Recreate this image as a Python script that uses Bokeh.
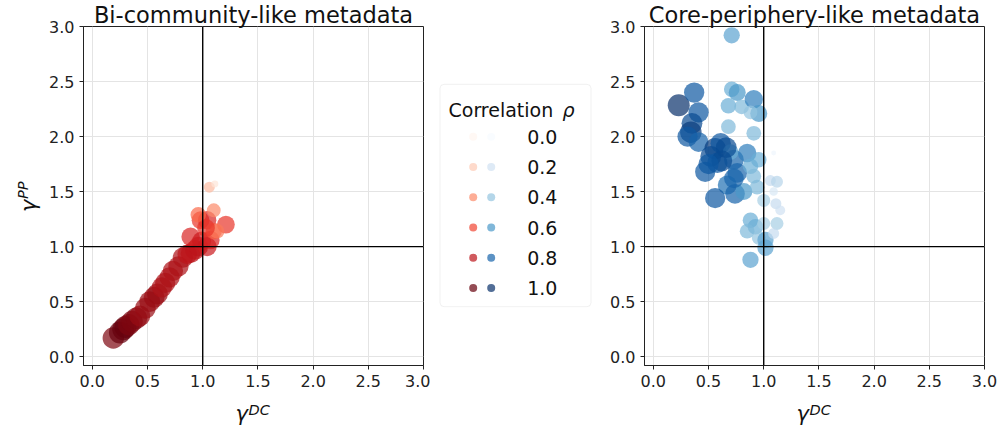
import math

from bokeh.plotting import figure
from bokeh.layouts import row
from bokeh.models import (Range1d, FixedTicker, PrintfTickFormatter, Span, Label,
                          LinearColorMapper, ColumnDataSource, BoxAnnotation)
from bokeh.palettes import Reds256, Blues256
from bokeh.embed import file_html
from bokeh.resources import INLINE
from bokeh.core.properties import value

FONT = "DejaVu Sans"

# ---- data -------------------------------------------------------------
ticks = [0.0, 0.5, 1.0, 1.5, 2.0, 2.5, 3.0]
legend_rho = [0.0, 0.2, 0.4, 0.6, 0.8, 1.0]
legend_labels = ["0.0", "0.2", "0.4", "0.6", "0.8", "1.0"]

# bi-community-like metadata
bi_gamma_dc = [0.19, 0.25, 0.28, 0.30, 0.33, 0.36, 0.40, 0.43, 0.48, 0.52, 0.56, 0.59,
               0.63, 0.66, 0.70, 0.73, 0.78, 0.82, 0.86, 0.89, 0.93, 0.96, 0.89, 0.99,
               1.04, 1.07, 0.98, 1.04, 1.21, 1.10, 0.96, 1.10, 1.13, 1.06, 1.11, 1.03]
bi_gamma_pp = [0.17, 0.22, 0.25, 0.27, 0.29, 0.32, 0.35, 0.37, 0.44, 0.50, 0.54, 0.57,
               0.63, 0.67, 0.72, 0.78, 0.82, 0.90, 0.93, 0.94, 0.97, 1.00, 1.09, 1.05,
               1.00, 1.06, 1.24, 1.24, 1.20, 1.14, 1.29, 1.33, 1.14, 1.54, 1.57, 1.17]
bi_rho = [0.95, 1.0, 1.0, 1.0, 0.95, 0.95, 0.95, 0.9, 0.9, 0.9, 0.9, 0.9,
          0.85, 0.85, 0.85, 0.85, 0.85, 0.85, 0.8, 0.8, 0.8, 0.8, 0.7, 0.75,
          0.75, 0.7, 0.65, 0.7, 0.65, 0.55, 0.5, 0.4, 0.45, 0.25, 0.1, 0.65]

# core-periphery-like metadata
cp_gamma_dc = [0.71, 0.23, 0.37, 0.41, 0.35, 0.34, 0.31, 0.41, 0.56, 0.61, 0.52, 0.47,
               0.58, 0.73, 0.76, 0.67, 0.74, 0.56, 0.82, 0.85, 0.88, 0.91, 0.955, 0.94,
               1.00, 1.06, 1.12, 1.09, 1.11, 1.15, 1.09, 0.88, 0.925, 0.85, 1.00, 1.12,
               0.955, 1.016, 1.016, 0.88, 1.09, 0.71, 0.76, 0.68, 0.80, 0.91, 0.955, 0.88,
               0.68, 0.91, 0.70, 0.62, 0.66, 0.50, 0.73]
cp_gamma_pp = [2.92, 2.285, 2.40, 2.22, 2.12, 2.04, 2.00, 1.95, 1.89, 1.94, 1.82, 1.68,
               1.76, 1.79, 1.67, 1.56, 1.48, 1.44, 1.50, 1.85, 1.73, 1.64, 1.79, 1.54,
               1.42, 1.60, 1.59, 1.50, 1.39, 1.33, 1.85, 1.24, 1.18, 1.14, 1.21, 1.21,
               1.08, 1.06, 0.99, 0.88, 1.12, 2.43, 2.40, 2.28, 2.27, 2.34, 2.21, 2.22,
               2.09, 2.03, 1.86, 1.78, 1.90, 1.75, 1.62]
cp_rho = [0.55, 1.0, 0.85, 0.85, 0.9, 0.95, 0.85, 0.8, 0.95, 0.85, 0.9, 0.85,
          0.85, 0.8, 0.8, 0.75, 0.8, 0.85, 0.6, 0.7, 0.5, 0.45, 0.5, 0.45,
          0.35, 0.25, 0.3, 0.15, 0.25, 0.2, 0.05, 0.5, 0.5, 0.45, 0.35, 0.35,
          0.4, 0.55, 0.55, 0.55, 0.25, 0.5, 0.6, 0.5, 0.45, 0.7, 0.6, 0.4,
          0.45, 0.45, 0.5, 0.9, 0.9, 0.85, 0.8]


def _lum(hex_color):
    h = hex_color.lstrip("#")
    r, g, b = (int(h[i:i + 2], 16) for i in (0, 2, 4))
    return 0.299 * r + 0.587 * g + 0.114 * b


def light_to_dark(pal):
    pal = list(pal)
    return pal if _lum(pal[0]) > _lum(pal[-1]) else pal[::-1]


red_map = LinearColorMapper(palette=light_to_dark(Reds256), low=0, high=1)
blue_map = LinearColorMapper(palette=light_to_dark(Blues256), low=0, high=1)

X_LO, X_HI = -0.08, 3.0
XMID = (X_LO + X_HI) / 2


def anchored_label(text, x, y, dx, dy, size, italic=False, angle=0.0, align="left"):
    # anchored at a data position, shifted by a pixel offset
    return Label(x=x, y=y, x_offset=dx, y_offset=dy, text=text, angle=angle,
                 text_align=align, text_baseline="alphabetic", text_font=FONT,
                 text_font_style="italic" if italic else "normal",
                 text_font_size=size, text_color="#111111")


def panel(xs, ys, rhos, cmap, title, width, border_left, border_right, ylabel):
    p = figure(width=width, height=429, x_range=Range1d(X_LO, X_HI), y_range=Range1d(X_LO, X_HI),
               toolbar_location=None, output_backend="svg",
               min_border_left=border_left, min_border_right=border_right,
               min_border_top=26, min_border_bottom=63)
    p.outline_line_color = "#222222"
    p.outline_line_width = 1
    for ax in (p.xaxis[0], p.yaxis[0]):
        ax.ticker = FixedTicker(ticks=ticks)
        ax.formatter = PrintfTickFormatter(format="%.1f")
        ax.minor_tick_line_color = None
        ax.major_tick_in = 0
        ax.major_tick_out = 4
        ax.major_tick_line_color = "#222222"
        ax.axis_line_color = "#222222"
        ax.major_label_text_font = FONT
        ax.major_label_text_font_size = "16px"
        ax.major_label_text_color = "#222222"
        ax.major_label_standoff = 5
    p.grid.grid_line_color = "#e4e4e4"
    p.grid.grid_line_width = 1
    p.grid.ticker = FixedTicker(ticks=ticks)

    p.add_layout(Span(location=1.0, dimension="height", line_color="black", line_width=1.4))
    p.add_layout(Span(location=1.0, dimension="width", line_color="black", line_width=1.4))

    sizes = [22.0 * math.sqrt(r) for r in rhos]
    src = ColumnDataSource(dict(x=xs, y=ys, rho=rhos, size=sizes))
    p.scatter("x", "y", source=src, size="size",
              fill_color={"field": "rho", "transform": cmap}, fill_alpha=0.7,
              line_color=None)

    p.add_layout(anchored_label(title, XMID, X_HI, 0, 12, "22.5px", align="center"), "above")
    # x label: gamma^DC
    p.add_layout(anchored_label("γ", XMID, X_LO, -18, -48, "21px", italic=True), "below")
    p.add_layout(anchored_label("DC", XMID, X_LO, -5, -44, "14.5px", italic=True), "below")
    if ylabel:
        # y label: gamma^PP, reading upwards
        p.add_layout(anchored_label("γ", X_LO, XMID, -55, -16, "21px", italic=True,
                                    angle=math.pi / 2), "left")
        p.add_layout(anchored_label("PP", X_LO, XMID, -61, -3, "14.5px", italic=True,
                                    angle=math.pi / 2), "left")
    return p


left = panel(bi_gamma_dc, bi_gamma_pp, bi_rho, red_map, "Bi-community-like metadata",
             430, 83, 7, True)
right = panel(cp_gamma_dc, cp_gamma_pp, cp_rho, blue_map, "Core-periphery-like metadata",
              404, 49, 15, False)

# ---- legend column; the frame of this column spans page rows 26..366 ------
leg = figure(width=165, height=429, x_range=Range1d(430, 595), y_range=Range1d(366, 26),
             x_axis_location=None, y_axis_location=None, toolbar_location=None,
             output_backend="svg", min_border=0, outline_line_color=None)
leg.xgrid.visible = False
leg.ygrid.visible = False
leg.add_layout(BoxAnnotation(left=439.5, right=590.5, top=84, bottom=307, level="underlay",
                             fill_color="white", fill_alpha=0.8, line_color="#d0d0d0",
                             line_width=1, border_radius=4))
leg.add_layout(Label(x=448, y=110, text="Correlation", text_align="left",
                     text_baseline="alphabetic", text_font=FONT, text_font_size="19px",
                     text_color="#111111"))
leg.add_layout(Label(x=562, y=110, text="ρ", text_align="left",
                     text_baseline="alphabetic", text_font=FONT, text_font_style="italic",
                     text_font_size="19px", text_color="#111111"))
row_y = [136.7 + 30.3 * i for i in range(len(legend_rho))]
leg_src = ColumnDataSource(dict(rho=legend_rho, y=row_y, label=legend_labels,
                                xr=[472.7] * len(row_y), xb=[490.7] * len(row_y),
                                xt=[526.7] * len(row_y)))
leg.scatter("xr", "y", source=leg_src, size=8, fill_alpha=0.7, line_color=None,
            fill_color={"field": "rho", "transform": red_map})
leg.scatter("xb", "y", source=leg_src, size=8, fill_alpha=0.7, line_color=None,
            fill_color={"field": "rho", "transform": blue_map})
leg.text("xt", "y", text="label", source=leg_src, text_font=value(FONT),
         text_font_size="19px", text_baseline="middle", text_align="left",
         text_color="#111111")

layout = row(left, leg, right, spacing=0)
open("out.html", "w").write(file_html(layout, INLINE))
